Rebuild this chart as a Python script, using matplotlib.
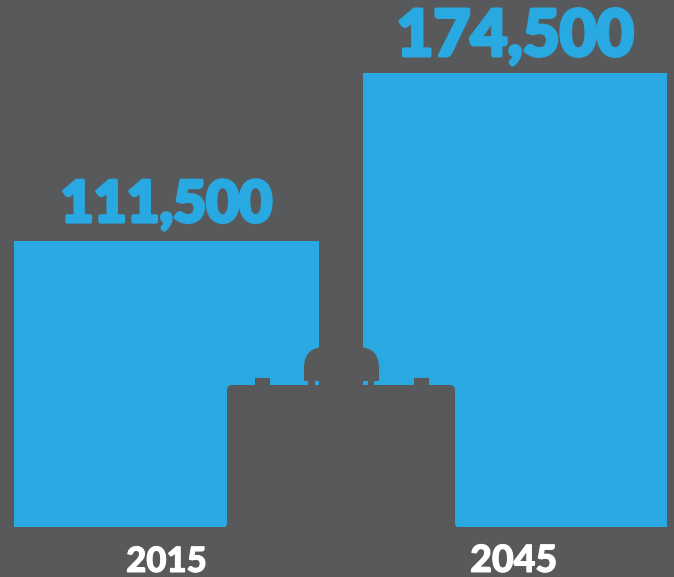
"""Two-bar job growth graphic with a briefcase silhouette cut over the bars."""

import matplotlib

matplotlib.use("Agg")
import matplotlib.pyplot as plt
import matplotlib.patheffects as pe
from matplotlib.patches import FancyBboxPatch, Polygon, Rectangle

YEARS = ["2015", "2045"]
JOBS = [111500, 174500]
JOB_LABELS = ["111,500", "174,500"]

BG = "#58595b"
BLUE = "#29a9e1"
W, H = 674, 577

# the source bars don't start at zero, the baseline is read off the picture
BASE = 4250
YMIN, YMAX = -14500, 201875

fig = plt.figure(figsize=(W / 100, H / 100), dpi=100)
fig.patch.set_facecolor(BG)
ax = fig.add_axes([0, 0, 1, 1])
ax.set_facecolor(BG)
ax.set_xlim(-0.4778, 1.4562)
ax.set_ylim(YMIN, YMAX)
ax.axis("off")

x = range(len(YEARS))
ax.bar(x, [v - BASE for v in JOBS], bottom=BASE, width=0.875, color=BLUE)

# no Montserrat Black here, so fatten Lato with a stroke
label_sizes = [41, 46]
label_pads = [7200, 6500]
for i, (v, lab) in enumerate(zip(JOBS, JOB_LABELS)):
    ax.text(i, v + label_pads[i], lab, family="Lato", weight=900, color=BLUE,
            fontsize=label_sizes[i], ha="center", va="baseline",
            path_effects=[pe.withStroke(linewidth=2.6, foreground=BLUE)])
year_sizes = [25, 27]
year_shift = [0, -0.004]
for i, year in enumerate(YEARS):
    ax.text(i + year_shift[i], -12600, year, family="Lato", weight=900, color="white",
            fontsize=year_sizes[i], ha="center", va="baseline",
            path_effects=[pe.withStroke(linewidth=0.8, foreground="white")])

# briefcase, drawn in pixel coordinates on its own overlay
over = fig.add_axes([0, 0, 1, 1], zorder=3)
over.patch.set_alpha(0)
over.set_xlim(0, W)
over.set_ylim(H, 0)
over.axis("off")

# handle shoulders first, the strip below them is then cut back in
over.add_patch(FancyBboxPatch((304, 347), 75, 60, boxstyle="round,pad=0,rounding_size=21",
                              fc=BG, ec="none"))
over.add_patch(Rectangle((304, 381), 75, 5, fc=BLUE, ec="none"))
for rx, rw in [(308, 7), (319, 44), (368, 6)]:
    over.add_patch(Rectangle((rx, 380), rw, 6, fc=BG, ec="none"))

over.add_patch(FancyBboxPatch((227, 385), 228, 143, boxstyle="round,pad=0,rounding_size=5",
                              fc=BG, ec="none"))
over.add_patch(Polygon([(230, 518), (230, 527.5), (225, 527.5)], fc=BG, ec="none"))
over.add_patch(Polygon([(452, 518), (452, 527.5), (457, 527.5)], fc=BG, ec="none"))
for tab_x in (255, 414):
    over.add_patch(Rectangle((tab_x, 378), 14.5, 8, fc=BG, ec="none"))

fig.savefig("out.png", dpi=100, facecolor=BG)
